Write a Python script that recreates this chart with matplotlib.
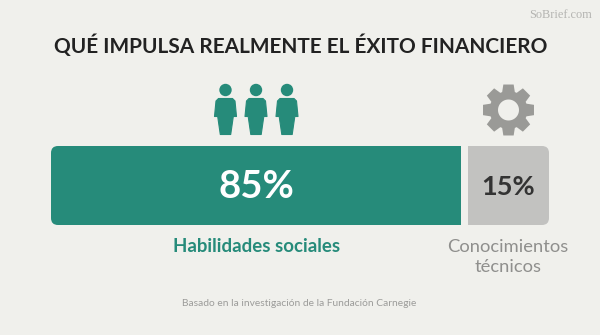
import numpy as np
import matplotlib
matplotlib.use('Agg')
import matplotlib.pyplot as plt
from matplotlib.patches import Circle, FancyBboxPatch, PathPatch, Polygon
from matplotlib.path import Path

W, H = 600, 335
BG = '#F0F0EC'
GREEN = '#268B7A'
GRAY = '#C2C2C0'
GEAR = '#9A9A97'

title = 'QUÉ IMPULSA REALMENTE EL ÉXITO FINANCIERO'
source = 'Basado en la investigación de la Fundación Carnegie'
watermark = 'SoBrief.com'
labels = ['Habilidades sociales', 'Conocimientos\ntécnicos']
values = [85, 15]

plt.rcParams['font.family'] = ['Lato', 'DejaVu Sans']

fig = plt.figure(figsize=(W/100, H/100), dpi=100, facecolor=BG)


def px_axes(x0, y0, x1, y1):
	# axes placed by pixel box, y measured from the top of the image
	ax = fig.add_axes([x0/W, 1-y1/H, (x1-x0)/W, (y1-y0)/H])
	ax.axis('off')
	return ax


# page layer, one unit = one pixel
page = px_axes(0, 0, W, H)
page.set_xlim(0, W)
page.set_ylim(H, 0)

page.text(300.5, 46, title, ha='center', va='center', fontsize=15, fontweight='bold', color='#222222')
page.text(592, 15, watermark, ha='right', va='center', fontsize=8.8, family='Liberation Serif', color='#B4B4B1')
page.text(299.5, 303, source, ha='center', va='center', fontsize=7.4, color='#9C9C9A')
page.text(256.5, 246, labels[0], ha='center', va='center', fontsize=13.4, fontweight='bold', color=GREEN)
page.text(508, 257, labels[1], ha='center', va='center', fontsize=13.2, color='#8F8F8D', linespacing=1.3)

# people
for cx in [225.5, 256, 287]:
	page.add_patch(Circle((cx, 90), 6.2, fc=GREEN, ec='none'))
	body = [(cx-7, 98.5), (cx+7, 98.5), (cx+9.5, 101), (cx+11, 116.5), (cx+7.8, 116.5), (cx+5.2, 134.5),
			(cx-5.2, 134.5), (cx-7.8, 116.5), (cx-11, 116.5), (cx-9.5, 101)]
	page.add_patch(Polygon(body, fc=GREEN, ec=GREEN, lw=0.8, joinstyle='round'))

# gear, 8 teeth with a round hole
gx, gy = 508.5, 110
angs = []
rads = []
for i in range(8):
	a = i*np.pi/4 - np.pi/2
	angs += [a-0.34, a-0.2, a+0.2, a+0.34]
	rads += [19, 26, 26, 19]
outer = np.column_stack([gx+np.array(rads)*np.cos(angs), gy+np.array(rads)*np.sin(angs)])
t = np.linspace(0, 2*np.pi, 60)[::-1]
hole = np.column_stack([gx+10.5*np.cos(t), gy+10.5*np.sin(t)])
verts = np.vstack([outer, outer[:1], hole, hole[:1]])
codes = [Path.MOVETO]+[Path.LINETO]*(len(outer)-1)+[Path.CLOSEPOLY]+[Path.MOVETO]+[Path.LINETO]*(len(hole)-1)+[Path.CLOSEPOLY]
page.add_patch(PathPatch(Path(verts, codes), fc=GEAR, ec='none'))

# the two bars have their own scales, the picture does not keep them proportional
boxes = [(51, 461), (468, 549)]
colors = [GREEN, GRAY]
txt_colors = ['white', '#333333']
txt_sizes = [27.5, 19.5]
for val, box, col, tc, ts in zip(values, boxes, colors, txt_colors, txt_sizes):
	ax = px_axes(box[0], 146, box[1], 225)
	ax.set_xlim(0, val)
	ax.set_ylim(0, 1)
	bars = ax.barh([0.5], [val], height=1, color=col)
	# round only the outer corners
	ext = 20
	x0 = box[0]-(ext if val == 15 else 0)
	x1 = box[1]+(ext if val == 85 else 0)
	clip = FancyBboxPatch((x0+7, 153), x1-x0-14, 65, boxstyle='round,pad=7', transform=page.transData, fc='none', ec='none')
	fig.add_artist(clip)
	clip.set_visible(False)
	bars[0].set_clip_path(clip)
	ax.text(val/2, 0.48, '%d%%' % val, ha='center', va='center', fontsize=ts, fontweight='bold', color=tc)

fig.savefig('out.png', dpi=100, facecolor=BG)
